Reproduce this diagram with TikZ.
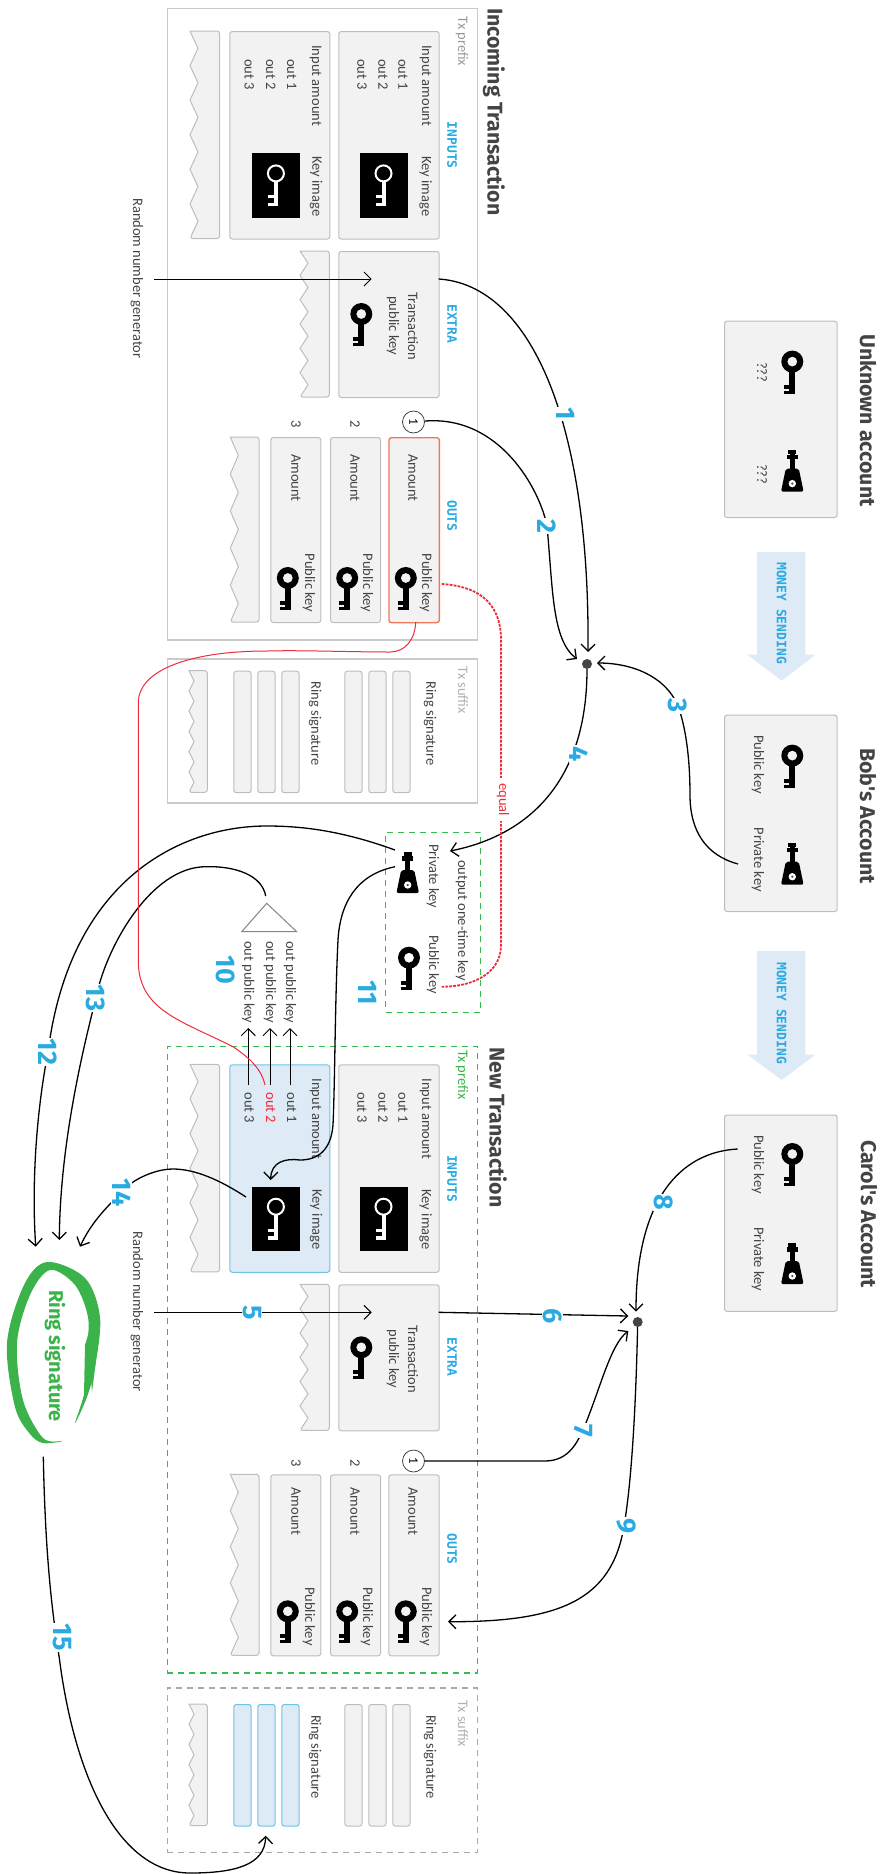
\documentclass[tikz,border=0pt]{standalone}
\usepackage{fontspec}
\setmainfont{Carlito}
\newfontfamily\headfont{Fira Sans}
\newfontfamily\tagfont{DejaVu Sans Mono}
\usetikzlibrary{positioning, arrows.meta}

\definecolor{boxfill}{HTML}{F2F2F2}
\definecolor{boxline}{HTML}{BDBDBD}
\definecolor{txtgray}{HTML}{444444}
\definecolor{tagblue}{HTML}{29ABE2}
\definecolor{paleblue}{HTML}{DEEAF5}
\definecolor{bluedge}{HTML}{6EC3E2}
\definecolor{keyred}{HTML}{EE2B3B}
\definecolor{orangedge}{HTML}{F0775A}
\definecolor{dashgreen}{HTML}{35BE4B}
\definecolor{ringgreen}{HTML}{3BB34A}

\tikzset{
    box/.style={draw=boxline, fill=boxfill, rounded corners=2.5pt, line width=1pt, inner sep=0pt, anchor=north west},
    boxsize/.style 2 args={minimum width=#1pt, minimum height=#2pt},
    torn/.style={draw=boxline, fill=boxfill, line width=1pt},
    imgbox/.style={fill=black, inner sep=0pt, anchor=north west},
    frame/.style={draw=boxline!80, line width=1.5pt, inner sep=0pt, anchor=north west},
    greenframe/.style={draw=dashgreen, line width=1.2pt, dash pattern=on 6pt off 5pt, inner sep=0pt, anchor=north west},
    grayframe/.style={draw=boxline!90!black, line width=1.2pt, dash pattern=on 6pt off 5pt, inner sep=0pt, anchor=north west},
    lbl/.style={rotate=-90, anchor=west, inner sep=0pt, text=txtgray, font=\fontsize{14.5}{16}\selectfont},
    tag/.style={rotate=-90, anchor=west, inner sep=0pt, text=tagblue, font=\tagfont\bfseries\fontsize{13}{15}\selectfont},
    head/.style={rotate=-90, anchor=west, inner sep=0pt, text=txtgray, font=\headfont\bfseries\fontsize{21.3}{23}\selectfont},
    num/.style={rotate=-90, fill=white, inner sep=1pt, text=tagblue, font=\headfont\bfseries\fontsize{27}{29}\selectfont},
    link/.style={draw=black, line width=1.3pt},
    dot/.style={circle, fill=txtgray, minimum size=10pt, inner sep=0pt},
    outnum/.style={circle, draw=txtgray, fill=white, line width=.8pt, minimum size=22pt, inner sep=0pt, rotate=-90, font=\fontsize{13}{15}\selectfont},
    % highlighted parts, switched per transaction
    prefixtext/.style={text=gray!80},
    inBox/.style={},
    outBox/.style={draw=orangedge, line width=1.3pt},
    redout/.style={},
    barBox/.style={},
    pubkey/.pic={
        \fill[black, even odd rule] (0,0) circle (11pt) (0,0) circle (5pt);
        \fill[black] (-3,9) rectangle (3,32);
        \fill[black] (-8,23) rectangle (-3,27);
        \fill[black] (-8,29) rectangle (-3,32);
    },
    whitekey/.pic={
        \draw[white, line width=2pt] (0,0) circle (8pt);
        \fill[white] (-1.7,8) rectangle (2,33);
        \fill[white] (-8,22) rectangle (-1.7,25);
        \fill[white] (-8,29.5) rectangle (-1.7,33);
    },
    privkey/.pic={
        \fill[black, rounded corners=2pt] (-11.3,0) -- (11.3,0) -- (6.5,-23) -- (-6.5,-23) -- cycle;
        \fill[white] (0,-8) circle (3.7pt);
        \fill[txtgray] (0,-8) circle (1.2pt);
        \fill[black] (-2.5,-41) rectangle (2.5,-22);
        \fill[black] (-5.7,-37) rectangle (5.7,-32.5);
        \fill[black] (-4,-41.5) rectangle (4,-37.5);
    },
}

% left, right, top, bottom, teeth, depth
\newcommand{\tornbox}[6]{
    \pgfmathsetmacro{\tornstep}{(#4-#3)/#5}
    \draw[torn] (#1,#3) [rounded corners=2.5pt] -- (#2,#3) -- (#2,#4) -- (#1,#4) [sharp corners]
        \foreach \i in {1,...,#5} { -- ({#1+#6},{#4-(\i-0.5)*\tornstep}) -- (#1,{#4-\i*\tornstep}) } -- cycle;
}

% outs top, outs height, circle y
\newcommand{\txparts}[3]{
    \node[lbl, prefixtext] (prefixName) at (462,16.5) {Tx prefix};
    \node[tag] (inputsTag) at (452,121.5) {INPUTS};
    \node[tag] (extraTag) at (452,304) {EXTRA};
    \node[tag] (outsTag) at (452,500) {OUTS};

    \node[box, boxsize={100.4}{207.5}] (inA) at (338.3,31) {};
    \node[box, inBox, boxsize={100}{207.5}] (inB) at (229.3,31) {};
    \tornbox{190}{219.5}{31}{238.5}{6}{8}
    \node[lbl] (amtA) at (425.5,45) {Input amount};
    \node[lbl] (outA1) at (403,59) {out 1};
    \node[lbl] (outA2) at (383,59) {out 2};
    \node[lbl] (outA3) at (362,59) {out 3};
    \node[lbl] (amtB) at (315.5,45) {Input amount};
    \node[lbl] (outB1) at (291.7,59) {out 1};
    \node[lbl, redout] (outB2) at (270.7,59) {out 2};
    \node[lbl] (outB3) at (249.3,59) {out 3};
    \node[lbl] (imgA) at (425.7,156) {Key image};
    \node[lbl] (imgB) at (316,156) {Key image};
    \node[imgbox, minimum width=48.4pt, minimum height=64.5pt] (blackA) at (359.3,153) {};
    \node[imgbox, minimum width=48.4pt, minimum height=64.5pt] (blackB) at (251.7,153) {};
    \pic at (383.5,173.4) {whitekey};
    \pic at (275.9,173.4) {whitekey};

    \node[box, boxsize={100.4}{146}] (extraA) at (338.3,251) {};
    \tornbox{300}{329.3}{251}{397}{6}{8}
    \node[lbl] (txName) at (413,292) {Transaction};
    \node[lbl] (pubName) at (393,296) {public key};
    \pic at (361.3,314) {pubkey};
    \coordinate (rngFrom) at (154,279);
    \coordinate (rngTo) at (371.7,279);
    \coordinate (extraOut) at (438.7,279);
    \node[lbl] (rngName) at (137,198) {Random number generator};

    \node[outnum] (one) at (413.5,#3) {1};
    \node[lbl, anchor=center] (two) at (355,#3+2) {2};
    \node[lbl, anchor=center] (three) at (296,#3+2) {3};
    \node[box, outBox, boxsize={50.4}{#2}] (outA) at (388.3,#1) {};
    \node[box, boxsize={50}{#2}] (outB) at (330,#1) {};
    \node[box, boxsize={50}{#2}] (outC) at (270.3,#1) {};
    \tornbox{230.3}{259}{#1}{622}{5}{8}
    \node[lbl] (amountA) at (413,454) {Amount};
    \node[lbl] (amountB) at (355,454) {Amount};
    \node[lbl] (amountC) at (296,454) {Amount};
    \node[lbl] (pubA) at (426,553.5) {Public key};
    \node[lbl] (pubB) at (367,553.5) {Public key};
    \node[lbl] (pubC) at (309,553.5) {Public key};
    \pic at (405.8,578) {pubkey};
    \pic at (347.2,578) {pubkey};
    \pic at (287.8,578) {pubkey};
}

\newcommand{\suffixparts}{
    \node[lbl, text=gray!60] (suffixName) at (463,666.5) {Tx suffix};
    \node[lbl] (ringA) at (430,681.5) {Ring signature};
    \node[lbl] (ringB) at (315,681.5) {Ring signature};
    \foreach \x/\n in {392.3/a, 368.3/b, 344.3/c} {
        \node[box, boxsize={17.3}{121.5}] (bar\n) at (\x,670.7) {};
    }
    \foreach \x/\n in {281.3/d, 257.3/e, 233.3/f} {
        \node[box, barBox, boxsize={17.3}{121.5}] (bar\n) at (\x,670.7) {};
    }
    \tornbox{189}{207.3}{670.7}{792.3}{6}{5}
}

\begin{document}
\begin{tikzpicture}[x=1pt, y=-1pt, >={Straight Barb[length=7pt,width=14pt]}]
    \useasboundingbox (0,0) rectangle (885,1874);

    % accounts
    \node[head] (unknownName) at (868,334) {Unknown account};
    \node[head] (bobName) at (868,748) {Bob's Account};
    \node[head] (carolName) at (869,1140) {Carol's Account};
    \node[box, boxsize={112.7}{196.3}] (unknown) at (724,320.7) {};
    \node[box, boxsize={112.7}{196.3}] (bob) at (724,714.7) {};
    \node[box, boxsize={112.7}{196.3}] (carol) at (724,1114.5) {};
    \pic at (792.3,361.6) {pubkey};
    \pic at (792.3,755.6) {pubkey};
    \pic at (792.3,1154) {pubkey};
    \pic at (792.3,491.6) {privkey};
    \pic at (792.3,884.7) {privkey};
    \pic at (792.3,1284) {privkey};
    \node[lbl] (qmA) at (762,362) {???};
    \node[lbl] (qmB) at (762,464) {???};
    \node[lbl] (bobPub) at (758,735) {Public key};
    \node[lbl] (bobPriv) at (758,827.5) {Private key};
    \node[lbl] (carolPub) at (758,1135) {Public key};
    \node[lbl] (carolPriv) at (758,1227) {Private key};

    % money sending
    \fill[paleblue] (757,552) -- (805.3,552) -- (805.3,654.6) -- (815.7,654.6) -- (781.7,680.7) -- (747.3,654.6) -- (757,654.6) -- cycle;
    \fill[paleblue] (757,951) -- (805.3,951) -- (805.3,1054.5) -- (815.7,1054.5) -- (781.7,1080) -- (747.3,1054.5) -- (757,1054.5) -- cycle;
    \node[tag] (sendA) at (781.7,562) {MONEY SENDING};
    \node[tag] (sendB) at (781.7,962) {MONEY SENDING};

    % incoming transaction
    \node[head] (incomingName) at (494,8) {Incoming Transaction};
    \node[frame, boxsize={310}{631.5}] (incoming) at (166.8,7.5) {};
    \node[frame, boxsize={310}{144}] (incomingSuffix) at (166.8,658) {};
    \begin{scope}[name prefix=old-]
        \txparts{437}{185}{422}
        \suffixparts
    \end{scope}

    % new transaction
    \node[head] (newName) at (498,1047) {New Transaction};
    \node[greenframe, boxsize={310}{626.3}] (newTx) at (166.8,1046) {};
    \node[grayframe, boxsize={310}{164.7}] (newSuffix) at (166.8,1687.3) {};
    \begin{scope}[name prefix=new-, shift={(0,1033.3)},
        prefixtext/.style={text=ringgreen},
        inBox/.style={draw=bluedge, fill=paleblue},
        outBox/.style={},
        redout/.style={text=keyred},
        barBox/.style={draw=bluedge, fill=paleblue}]
        \txparts{441}{181}{427.7}
        \suffixparts
    \end{scope}

    % one-time key
    \node[greenframe, boxsize={95}{180}] (oneTime) at (385,831.7) {};
    \node[lbl] (oneTimeName) at (462,860) {output one-time key};
    \node[lbl] (oneTimePriv) at (433,844) {Private key};
    \node[lbl] (oneTimePub) at (433,935) {Public key};
    \pic at (407.7,893) {privkey};
    \pic at (409,957.7) {pubkey};
    \coordinate (privOut) at (395,850);
    \coordinate (privImg) at (395,866.7);
    \coordinate (oneTimeIn) at (450,851);
    \coordinate (oneTimePubEnd) at (441.7,986.7);

    % public key fan
    \draw[draw=boxline!70!black, line width=1pt, fill=white] (266.7,903.3) -- (296.7,931.7) -- (241.7,931.7) -- cycle;
    \coordinate (fanTop) at (265.7,896);
    \node[lbl] (fanA) at (290,941) {out public key};
    \node[lbl] (fanB) at (270,941) {out public key};
    \node[lbl] (fanC) at (248.3,941) {out public key};
    \coordinate (fanAend) at (290,1028);
    \coordinate (fanBend) at (270,1028);
    \coordinate (fanCend) at (248.3,1028);
    \coordinate (fanAstart) at (290,1085);
    \coordinate (fanBstart) at (270,1085);
    \coordinate (fanCstart) at (248.3,1085);
    \draw[->, line width=1pt] (fanAstart) -- (fanAend);
    \draw[->, line width=1pt] (fanBstart) -- (fanBend);
    \draw[->, line width=1pt] (fanCstart) -- (fanCend);

    % dots
    \node[dot] (dotA) at (587,664) {};
    \node[dot] (dotB) at (637.7,1322) {};

    % ring signature
    \fill[ringgreen] plot[smooth cycle, tension=.55] coordinates {(75,1423) (87,1397) (95,1367) (100,1317) (85,1278) (47,1262) (24,1285) (7,1343) (15,1407) (30,1434) (43,1443) (62,1441) (43,1438) (23,1400) (17,1343) (30,1295) (50,1270) (75,1285) (88,1317) (87,1350) (85,1390)};
    \fill[ringgreen] (92,1322) -- (85,1345) -- (84,1395) -- (91,1378) -- (92,1392) -- (98,1345) -- cycle;
    \node[rotate=-90, anchor=west, inner sep=0pt, text=ringgreen, font=\headfont\bfseries\fontsize{20}{22}\selectfont] (ringName) at (55,1290) {Ring signature};

    % connector ends
    \coordinate (inA) at (588,652);
    \coordinate (inB) at (577,659);
    \coordinate (inC) at (597,663);
    \coordinate (bobPrivOut) at (738,864);
    \coordinate (inF) at (628.3,1316);
    \coordinate (inG) at (628.3,1331);
    \coordinate (inH) at (636,1311.7);
    \coordinate (carolPubOut) at (737.7,1149);
    \coordinate (newPubEnd) at (448,1621.7);
    \coordinate (imgEnd) at (270.7,1180);
    \coordinate (imgOut) at (246,1197);
    \coordinate (ringIn12) at (35.7,1246.7);
    \coordinate (ringIn13) at (59.3,1240);
    \coordinate (ringIn14) at (80,1246.7);
    \coordinate (ringOut) at (43.3,1456.7);
    \coordinate (barIn) at (265.7,1835.7);
    \coordinate (redFrom) at (415.7,622);
    \coordinate (redTo) at (265,1085);
    \coordinate (dashFrom) at (441.7,584);

    \draw[->, line width=1pt] (old-rngFrom) -- (old-rngTo);
    \draw[->, line width=1pt] (new-rngFrom) -- (new-rngTo);
    \draw[->, link] (old-extraOut) .. controls (530,285) and (590,420) .. (inA);
    \draw[->, link] (old-one) .. controls (500,415) and (540,490) .. (547,526) .. controls (553,590) and (552,640) .. (inB);
    \draw[->, link] (bobPrivOut) .. controls (705,855) and (690,830) .. (690,795) .. controls (690,755) and (685,725) .. (678,706) .. controls (665,675) and (630,663) .. (inC);
    \draw[->, link] (dotA) .. controls (587,780) and (530,835) .. (oneTimeIn);
    \draw[->, link] (new-extraOut) -- (inF);
    \draw[->, link] (new-one) -- (545,1461) .. controls (570,1461) and (578,1440) .. (583,1430) .. controls (600,1390) and (610,1345) .. (inG);
    \draw[->, link] (carolPubOut) .. controls (680,1152) and (636,1200) .. (inH);
    \draw[->, link] (dotB) .. controls (636,1400) and (632,1480) .. (624,1526) .. controls (612,1600) and (560,1622) .. (newPubEnd);
    \draw[->, link] (privImg) .. controls (355,875) and (340,905) .. (338,940) .. controls (335,1000) and (335,1080) .. (333,1125) .. controls (331,1150) and (318,1160) .. (300,1160) .. controls (285,1158) and (271,1162) .. (imgEnd);
    \draw[->, link] (privOut) .. controls (340,830) and (300,826) .. (266.7,826) .. controls (180,826) and (70,880) .. (48,1052) .. controls (35,1120) and (32,1190) .. (ringIn12);
    \draw[->, link] (fanTop) .. controls (262,875) and (235,866) .. (206.7,866.7) .. controls (150,866) and (105,950) .. (96,998) .. controls (80,1060) and (60,1150) .. (ringIn13);
    \draw[->, link] (imgOut) .. controls (220,1180) and (195,1169) .. (173,1169) .. controls (150,1169) and (125,1185) .. (121.7,1192.7) .. controls (105,1208) and (90,1225) .. (ringIn14);
    \draw[->, link] (ringOut) .. controls (45,1540) and (50,1600) .. (59.3,1658) .. controls (75,1780) and (120,1873) .. (190,1873) .. controls (235,1873) and (265,1865) .. (barIn);
    \draw[keyred, line width=1pt] (redFrom) .. controls (415,640) and (405,652) .. (390,652) .. controls (350,652) and (300,650) .. (267,651) .. controls (190,651) and (138,670) .. (138.3,703) -- (138.3,960) .. controls (138,1010) and (180,1020) .. (233,1046.7) .. controls (250,1058) and (262,1070) .. (redTo);
    \draw[keyred, line width=1.8pt, dash pattern=on 2.8pt off 1.2pt] (dashFrom) .. controls (475,586) and (501,600) .. (501,640) -- (501,945) .. controls (501,975) and (470,987) .. (oneTimePubEnd);
    \node[lbl, text=keyred, fill=white, inner sep=5pt] (equalName) at (503,778) {equal};

    % step numbers
    \node[num] (n1) at (566,414) {1};
    \node[num] (n2) at (546.7,526) {2};
    \node[num] (n3) at (678,706) {3};
    \node[num] (n4) at (579,754) {4};
    \node[num] (n5) at (252,1312.3) {5};
    \node[num] (n6) at (552.7,1316) {6};
    \node[num] (n7) at (583.3,1430.4) {7};
    \node[num] (n8) at (663.3,1202.6) {8};
    \node[num] (n9) at (626,1526) {9};
    \node[num] (n10) at (226,970) {10};
    \node[num] (n11) at (368,993) {11};
    \node[num] (n12) at (48,1052) {12};
    \node[num] (n13) at (96,998) {13};
    \node[num] (n14) at (121.7,1192.7) {14};
    \node[num] (n15) at (62,1637) {15};
\end{tikzpicture}
\end{document}
